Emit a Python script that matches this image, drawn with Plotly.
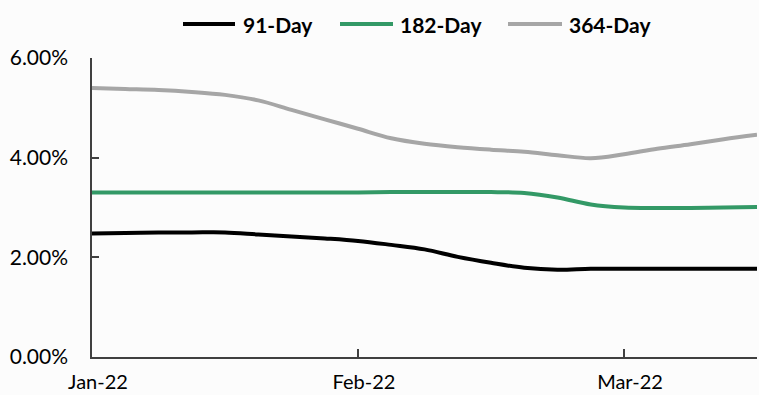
import plotly.graph_objects as go

# observation index along the category axis (half-week steps)
obs = list(range(21))
tick_pos = [0, 8, 16]
tick_labels = ["Jan-22", "Feb-22", "Mar-22"]

y91 = [2.48, 2.49, 2.50, 2.50, 2.50, 2.46, 2.42, 2.38, 2.33, 2.25, 2.16,
       2.01, 1.89, 1.79, 1.75, 1.77, 1.77, 1.77, 1.77, 1.77, 1.77]
y182 = [3.30, 3.30, 3.30, 3.30, 3.30, 3.30, 3.30, 3.30, 3.30, 3.31, 3.31,
        3.31, 3.31, 3.29, 3.20, 3.06, 3.00, 2.99, 2.99, 3.00, 3.01]
y364 = [5.40, 5.38, 5.36, 5.32, 5.26, 5.15, 4.96, 4.77, 4.58, 4.39, 4.28,
        4.21, 4.16, 4.12, 4.05, 3.99, 4.07, 4.18, 4.27, 4.37, 4.46]

series = [("91-Day", y91, "#000000"),
          ("182-Day", y182, "#339966"),
          ("364-Day", y364, "#A6A6A6")]

fig = go.Figure()
for name, vals, col in series:
    fig.add_trace(go.Scatter(x=obs, y=vals, name=name, mode="lines", showlegend=False,
                             line=dict(color=col, width=4, shape="spline", smoothing=1.0)))

# legend drawn above the plot (pixel layout converted to paper coords)
L, T, W, H = 92, 58, 665, 299
def px(x):
    return (x - L) / W
def py(y):
    return (T + H - y) / H

legend_items = [(183, 235, 241), (340, 393, 398), (508, 562, 567)]
for (name, vals, col), (x0, x1, xt) in zip(series, legend_items):
    fig.add_shape(type="line", xref="paper", yref="paper",
                  x0=px(x0), x1=px(x1), y0=py(24), y1=py(24),
                  line=dict(color=col, width=4))
    fig.add_annotation(xref="paper", yref="paper", x=px(xt), y=py(24),
                       xanchor="left", yanchor="middle", showarrow=False,
                       text="<b>%s</b>" % name,
                       font=dict(family="Lato", size=21, color="#000000"))

axis_col = "#404040"
fig.update_layout(
    width=759, height=395,
    margin=dict(l=L, r=759 - L - W, t=T, b=395 - T - H, autoexpand=False),
    paper_bgcolor="#fcfcfc", plot_bgcolor="#fcfcfc",
    font=dict(family="Lato", size=21, color="#000000"),
    showlegend=False,
    xaxis=dict(range=[0, 20], tickmode="array", tickvals=tick_pos, ticktext=tick_labels,
               tickfont=dict(size=20),
               showline=True, linecolor=axis_col, linewidth=1.5, automargin=False,
               ticks="inside", ticklen=8, tickcolor=axis_col, tickwidth=1.5,
               showgrid=False, zeroline=False, ticklabelshift=6, ticklabelstandoff=6),
    yaxis=dict(range=[0, 6], tickmode="array", tickvals=[0, 2, 4, 6],
               ticktext=["0.00%", "2.00%", "4.00%", "6.00%"],
               showline=True, linecolor=axis_col, linewidth=1.5, automargin=False,
               ticks="inside", ticklen=7, tickcolor=axis_col, tickwidth=1.5,
               showgrid=False, zeroline=False, ticklabelstandoff=18),
)

fig.write_html("out.html")
